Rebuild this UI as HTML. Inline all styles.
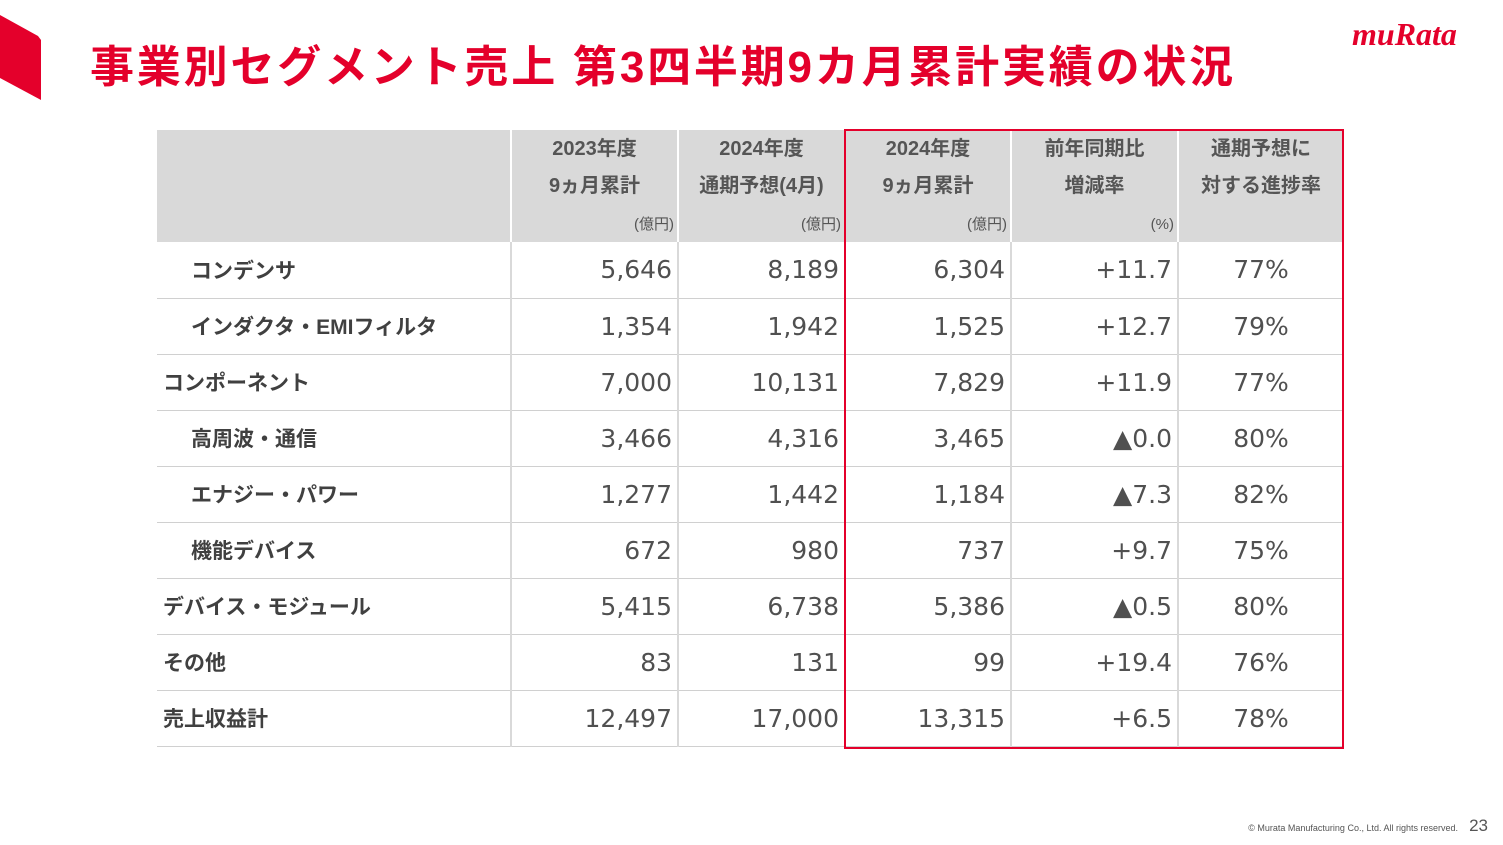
<!DOCTYPE html>
<html><head><meta charset="utf-8"><style>
body{margin:0;width:1503px;height:845px;background:#fff;position:relative;overflow:hidden;font-family:"Liberation Sans","Noto Sans CJK JP",sans-serif;}
.t{position:absolute;left:90px;top:31px;font-size:44px;font-weight:bold;color:#e4002b;letter-spacing:2.8px;white-space:nowrap;}
.logo{position:absolute;left:1352px;top:16px;font-family:"Liberation Serif",serif;font-style:italic;font-weight:bold;font-size:32px;color:#e4002b;letter-spacing:0px;}
table{position:absolute;left:157px;top:130px;border-collapse:collapse;color:#404040;}
td{height:56px;border-bottom:1.5px solid #d0d0d0;border-left:2px solid #d9d9d9;font-family:"DejaVu Sans","Noto Sans CJK JP",sans-serif;font-size:25px;color:#505050;text-align:right;padding:0 5px 0 0;box-sizing:border-box;}
td:first-child{border-left:none;text-align:left;font-family:"Liberation Sans","Noto Sans CJK JP",sans-serif;font-size:21px;font-weight:bold;color:#404040;padding-left:6px;}
td.i{padding-left:34px;}
th{background:#d9d9d9;border-left:2px solid #fff;height:112px;font-size:20px;font-weight:bold;color:#555;vertical-align:top;padding:0;position:relative;line-height:37px;padding-top:1px;box-sizing:border-box;}
th:first-child{border-left:none;}
th span{position:absolute;right:3px;bottom:8px;font-size:15px;font-weight:normal;line-height:18px;}
td.c,th.c{text-align:center;padding:0}
.red{position:absolute;left:844px;top:129px;width:496px;height:616px;border:2px solid #e4002b;}
.foot{position:absolute;right:45px;top:823px;font-size:9px;color:#555;}
.pn{position:absolute;right:15px;top:816px;font-size:17px;color:#555;}
</style></head><body>
<svg style="position:absolute;left:0;top:0" width="45" height="105"><polygon points="0,15 38,36 41,40 41,100 0,78" fill="#e4002b"/></svg>
<div class="t">事業別セグメント売上 第3四半期9カ月累計実績の状況</div>
<div class="logo">muRata</div>
<table>
<colgroup><col style="width:354px"><col style="width:167px"><col style="width:167px"><col style="width:166px"><col style="width:167px"><col style="width:165px"></colgroup>
<tr><th></th><th>2023年度<br>9ヵ月累計<span>(億円)</span></th><th>2024年度<br>通期予想(4月)<span>(億円)</span></th><th>2024年度<br>9ヵ月累計<span>(億円)</span></th><th>前年同期比<br>増減率<span>(%)</span></th><th>通期予想に<br>対する進捗率</th></tr>
<tr><td class="i">コンデンサ</td><td>5,646</td><td>8,189</td><td>6,304</td><td>+11.7</td><td class="c">77%</td></tr>
<tr><td class="i">インダクタ・EMIフィルタ</td><td>1,354</td><td>1,942</td><td>1,525</td><td>+12.7</td><td class="c">79%</td></tr>
<tr><td>コンポーネント</td><td>7,000</td><td>10,131</td><td>7,829</td><td>+11.9</td><td class="c">77%</td></tr>
<tr><td class="i">高周波・通信</td><td>3,466</td><td>4,316</td><td>3,465</td><td>▲0.0</td><td class="c">80%</td></tr>
<tr><td class="i">エナジー・パワー</td><td>1,277</td><td>1,442</td><td>1,184</td><td>▲7.3</td><td class="c">82%</td></tr>
<tr><td class="i">機能デバイス</td><td>672</td><td>980</td><td>737</td><td>+9.7</td><td class="c">75%</td></tr>
<tr><td>デバイス・モジュール</td><td>5,415</td><td>6,738</td><td>5,386</td><td>▲0.5</td><td class="c">80%</td></tr>
<tr><td>その他</td><td>83</td><td>131</td><td>99</td><td>+19.4</td><td class="c">76%</td></tr>
<tr><td>売上収益計</td><td>12,497</td><td>17,000</td><td>13,315</td><td>+6.5</td><td class="c">78%</td></tr>
</table>
<div class="red"></div>
<div class="foot">© Murata Manufacturing Co., Ltd. All rights reserved.</div>
<div class="pn">23</div>
</body></html>
